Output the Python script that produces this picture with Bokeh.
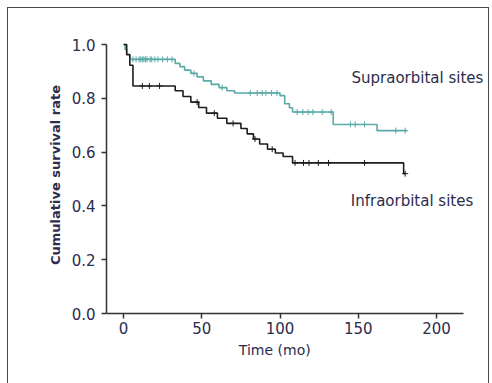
from bokeh.plotting import figure
from bokeh.models import Range1d, FixedTicker, CustomJSTickFormatter, Label
from bokeh.embed import file_html
from bokeh.resources import INLINE

# Infraorbital sites (black) Kaplan-Meier steps
infra_t = [0, 2, 4, 6, 33, 38, 43, 48, 53, 60, 66, 75, 79, 83, 87, 92, 97, 102, 108, 179, 180]
infra_s = [1.0, 0.962, 0.923, 0.846, 0.828, 0.807, 0.786, 0.766, 0.745, 0.726, 0.707, 0.688, 0.668, 0.649, 0.630, 0.611, 0.597, 0.584, 0.56, 0.52, 0.52]
infra_cens_t = [12, 16.5, 23, 47, 58, 70, 84, 95, 109.6, 115, 118.5, 124.5, 131, 154, 180]

# Supraorbital sites (teal) Kaplan-Meier steps
supra_t = [0, 1, 2, 4, 33, 36, 39, 43, 47, 51, 56, 61, 66, 71, 100, 103, 106, 108, 134, 162, 181]
supra_s = [1.0, 0.982, 0.964, 0.945, 0.93, 0.918, 0.905, 0.893, 0.88, 0.865, 0.852, 0.84, 0.828, 0.82, 0.81, 0.78, 0.765, 0.749, 0.703, 0.68, 0.68]
supra_cens_t = [6, 8, 10, 11, 12, 13, 14, 15, 17, 18, 20, 22, 25, 28, 31, 45, 63, 81, 85.4, 88.6, 91, 94.6, 98,
                111, 114.6, 118, 121, 127, 132.7, 145, 148, 154, 174, 180]

x_ticks = [0, 50, 100, 150, 200]
y_ticks = [0.0, 0.2, 0.4, 0.6, 0.8, 1.0]

label_supra = "Supraorbital sites"
label_infra = "Infraorbital sites"
x_title = "Time (mo)"
y_title = "Cumulative survival rate"


def step_level(ts, ss, t):
    level = ss[0]
    for ti, si in zip(ts, ss):
        if ti <= t:
            level = si
    return level


TEAL = "#5aaaa8"
BLACK = "#1e1e1e"
TEXT = "#2c2d4c"
FONT = "DejaVu Sans"

p = figure(width=482, height=378, output_backend="svg", toolbar_location=None,
           x_range=Range1d(-10.9, 232.6), y_range=Range1d(0, 1.03),
           min_border_left=98, min_border_right=3, min_border_top=28, min_border_bottom=73)
p.margin = (7, 0, 0, 7)
p.styles = {"border": "1.5px solid #4a4a4a", "box-sizing": "border-box"}
p.outline_line_color = None
p.grid.visible = False
p.background_fill_color = "white"

p.step(supra_t, supra_s, mode="after", line_color=TEAL, line_width=1.6)
p.step(infra_t, infra_s, mode="after", line_color=BLACK, line_width=1.6)

p.scatter(supra_cens_t, [step_level(supra_t, supra_s, t) for t in supra_cens_t],
          marker="cross", size=6, line_color=TEAL, line_width=1)
p.scatter(infra_cens_t, [step_level(infra_t, infra_s, t) for t in infra_cens_t],
          marker="cross", size=6, line_color=BLACK, line_width=1)

p.add_layout(Label(x=145.7, y=0.874, text=label_supra, text_font=FONT, text_font_size="15px",
                   text_color=TEXT, text_baseline="middle", text_align="left"))
p.add_layout(Label(x=145.2, y=0.42, text=label_infra, text_font=FONT, text_font_size="15px",
                   text_color=TEXT, text_baseline="middle", text_align="left"))

for ax in (p.xaxis[0], p.yaxis[0]):
    ax.axis_line_color = "#333333"
    ax.axis_line_width = 1.5
    ax.major_tick_line_color = "#333333"
    ax.major_tick_line_width = 1.5
    ax.major_tick_out = 5
    ax.major_tick_in = 0
    ax.minor_tick_line_color = None
    ax.major_label_text_font = FONT
    ax.major_label_text_font_size = "15px"
    ax.major_label_text_color = TEXT
    ax.axis_label_text_font = FONT
    ax.axis_label_text_color = TEXT
    ax.axis_label_text_font_style = "normal"

p.xaxis.ticker = FixedTicker(ticks=x_ticks)
p.yaxis.ticker = FixedTicker(ticks=y_ticks)
p.yaxis.formatter = CustomJSTickFormatter(code="return tick.toFixed(1);")
p.xaxis.bounds = (-10.9, 217.3)
p.yaxis.bounds = (0, 1.0)
# trailing no-break spaces shift the centred title left to the axis line's centre
p.xaxis.axis_label = x_title + "\u00a0" * 10
p.yaxis.axis_label = y_title
p.xaxis.axis_label_text_font_size = "14px"
p.yaxis.axis_label_text_font_size = "13px"
p.yaxis.axis_label_text_font_style = "bold"
p.xaxis.major_label_standoff = 3
p.yaxis.major_label_standoff = 6
p.xaxis.axis_label_standoff = 5
p.yaxis.axis_label_standoff = 6

open("out.html", "w").write(file_html(p, INLINE))
